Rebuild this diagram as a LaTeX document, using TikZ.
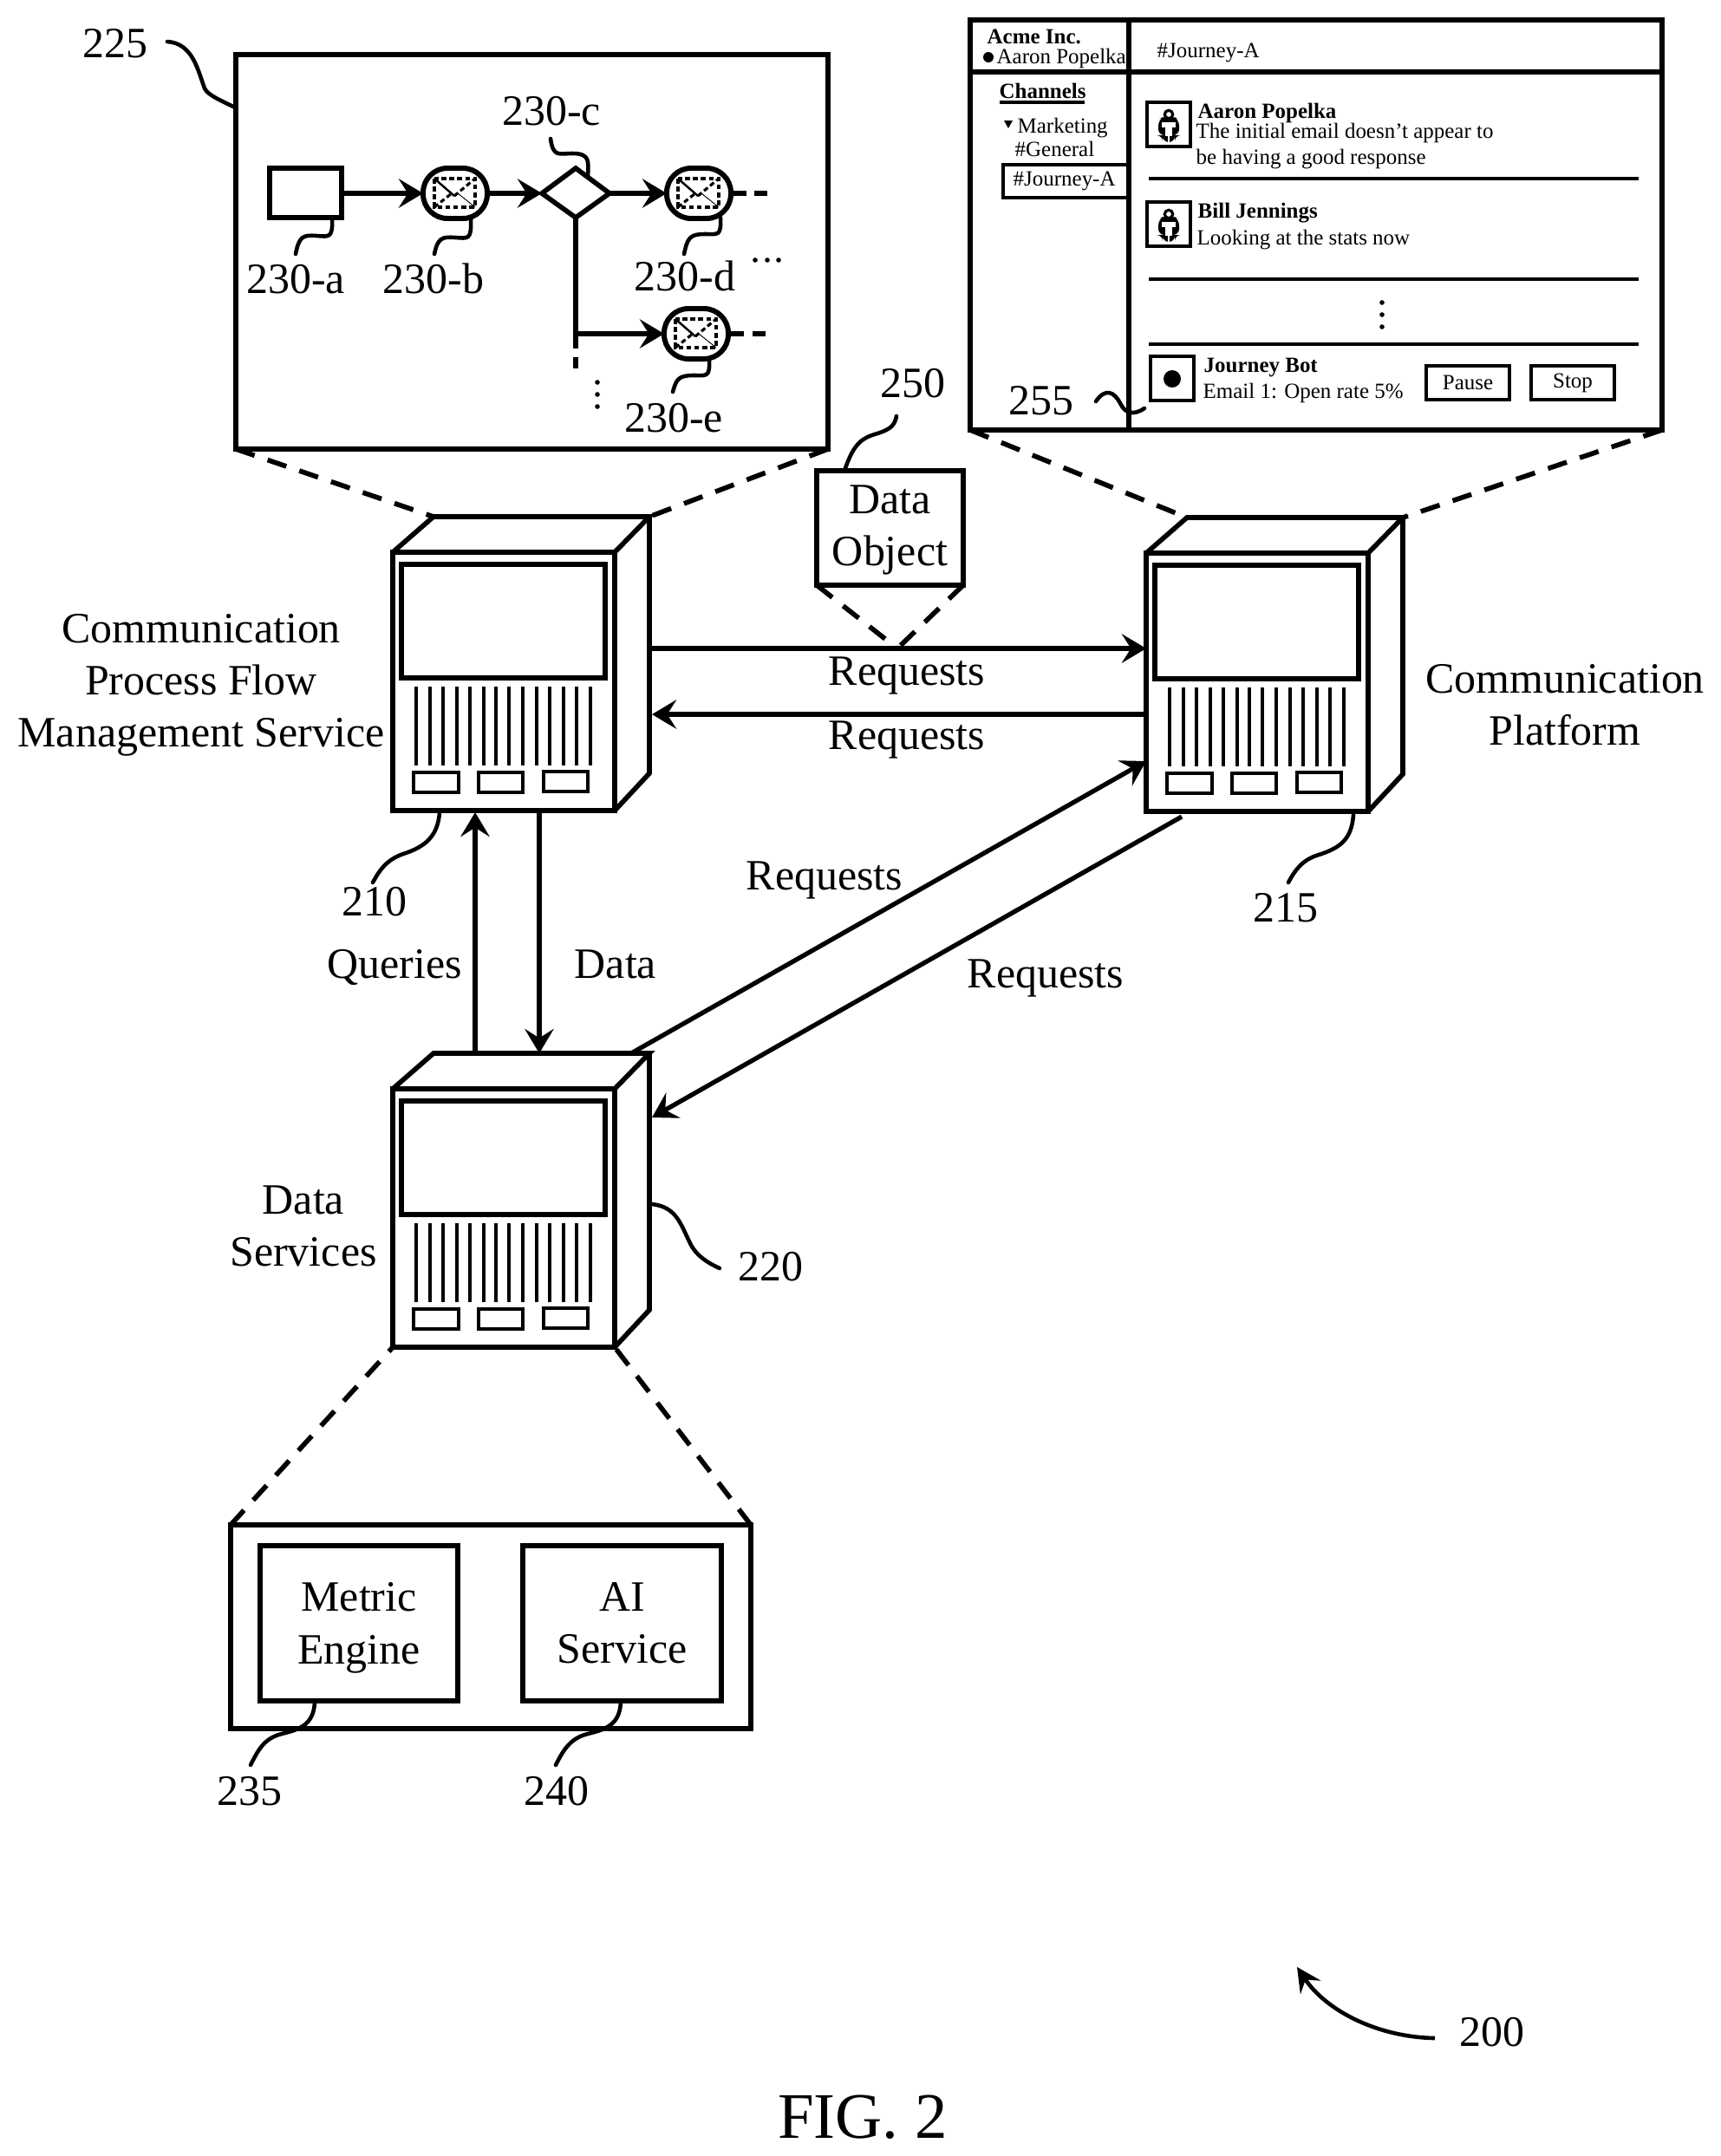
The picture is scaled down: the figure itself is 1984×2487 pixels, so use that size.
\documentclass[tikz,border=0pt]{standalone}
\usepackage{fontspec}
\setmainfont{Liberation Serif}
\usetikzlibrary{arrows.meta,calc}
\newcommand{\bigf}{\fontsize{14.2}{17.1}\selectfont}
\newcommand{\smallf}{\fontsize{7.1}{8.5}\selectfont}
\newcommand{\smallbf}{\fontsize{7.1}{8.5}\selectfont\bfseries}
\newcommand{\pxu}{0.01cm}
\tikzset{
  thick line/.style={line width=1.6pt,line join=miter},
  boxn/.style={draw,line width=1.6pt,inner sep=0pt,outer sep=0pt,anchor=north west},
  lab/.style={font=\bigf,inner sep=0pt,anchor=base},
  mlab/.style={font=\bigf,inner sep=0pt,align=center},
  sl/.style={font=\smallf,inner sep=0pt,anchor=base west},
  sb/.style={font=\smallbf,inner sep=0pt,anchor=base west},
  conn/.style={line width=1.5pt,-{Stealth[length=8pt,width=9.5pt,inset=3pt]}},
  zoomdash/.style={line width=1.6pt,dash pattern=on 6.5pt off 4.5pt},
  leader/.style={line width=1.3pt,line cap=round},
  flowline/.style={line width=1.5pt},
  flowarrow/.style={line width=1.5pt,-{Stealth[length=8pt,width=9.5pt,inset=3pt]}},
  sep/.style={line width=1.3pt},
}
% server: name, x of front left, y of front top
\newcommand{\serverbox}[3]{%
  \begin{scope}[shift={(#2,#3)}]
    \node[boxn,minimum width=256*\pxu,minimum height=298*\pxu] (#1) at (0,0) {};
    \coordinate (#1tl) at (47,-41);
    \coordinate (#1tr) at (296,-41);
    \draw[thick line] (0,0) -- (#1tl) -- (#1tr) -- (256,0);
    \draw[thick line] (#1tr) -- (296,255) -- (256,298);
    \node[boxn,minimum width=235*\pxu,minimum height=131*\pxu] (#1scr) at (10,14) {};
    \foreach \vx in {27,43,58,74,89,105,119,134,150,166,181,197,212,228}
      \draw[line width=1.05pt] (\vx,155) -- (\vx,246);
    \node[boxn,line width=1.05pt,minimum width=52*\pxu,minimum height=23*\pxu] (#1ba) at (24,254) {};
    \node[boxn,line width=1.05pt,minimum width=51*\pxu,minimum height=23*\pxu] (#1bb) at (99,254) {};
    \node[boxn,line width=1.05pt,minimum width=51*\pxu,minimum height=23*\pxu] (#1bc) at (174,253) {};
  \end{scope}}
% message envelope: name, centre x, centre y
\newcommand{\envelope}[3]{%
  \begin{scope}[shift={(#2,#3)}]
    \node[draw,line width=1.7pt,inner sep=0pt,outer sep=0pt,rounded corners=8pt,minimum width=74*\pxu,minimum height=58*\pxu] (#1) at (0,0) {};
    \draw[line width=.9pt,dash pattern=on 1.6pt off 1pt] (-24,-17) rectangle (23,16);
    \draw[line width=.7pt] (-24,-17) -- (-1,3);
    \draw[line width=.9pt,dash pattern=on 1.6pt off 1pt] (-1,3) -- (23,-17);
    \draw[line width=.9pt,dash pattern=on 1.6pt off 1pt] (-24,16) -- (-4,0);
    \draw[line width=.25pt] (3,0) -- (23,16);
  \end{scope}}
% person icon: name, box left, box top
\newcommand{\avatar}[3]{%
  \node[boxn,line width=1.3pt,minimum width=50*\pxu,minimum height=51*\pxu] (#1) at (#2,#3) {};
  \begin{scope}[shift={(#2+25,#3+26)}]
    \draw[line width=1pt] (0,-12) circle (4.5);
    \fill[rounded corners=2pt] (-5,-10) -- (5,-10) -- (12,-6) -- (12,12) -- (7,12) -- (7,20) -- (-7,20) -- (-7,12) -- (-12,12) -- (-12,-6) -- cycle;
    \fill[white] (0,-12) circle (2.8);
    \fill[white] (-8,-3) rectangle (8,3);
    \fill[white] (-4,0) rectangle (4,13);
    \fill[white] (-.7,13) rectangle (.7,20);
  \end{scope}}
\begin{document}
\begin{tikzpicture}[x=\pxu,y=-\pxu]
\useasboundingbox (0,0) rectangle (1984,2487);
\fill[white] (0,0) rectangle (1984,2487);

%--- box 225
\node[boxn,minimum width=683*\pxu,minimum height=455*\pxu] (b225) at (272,63) {};
\node[boxn,minimum width=83*\pxu,minimum height=57*\pxu] (fa) at (311,194) {};
\envelope{fb}{525}{223}
\coordinate (dT) at (664,194); \coordinate (dR) at (703,223); \coordinate (dB) at (664,251); \coordinate (dL) at (625,223);
\draw[thick line] (dT) -- (dR) -- (dB) -- (dL) -- cycle;
\envelope{fd}{806}{223}
\envelope{fe}{803}{385}
\draw[flowarrow] (fa.east |- fb.west) -- (fb.west);
\draw[flowarrow] (fb.east) -- (dL);
\draw[flowarrow] (dR) -- (fd.west);
\coordinate (fbr) at (dB |- fe.west);
\draw[flowline] (dB) -- (664,402);
\draw[flowline] (664,412) -- (664,425);
\draw[flowarrow] (fbr) -- (fe.west);
\coordinate (fdd) at (861,223);
\draw[flowline] (fd.east) -- (fdd);
\draw[flowline] (870,223) -- (885,223);
\coordinate (fee) at (858,385);
\draw[flowline] (fe.east) -- (fee);
\draw[flowline] (868,385) -- (883,385);
\foreach \dx in {871,885,898} \fill (\dx,300) circle (2.8);
\foreach \dy in {441,455,469} \fill (689,\dy) circle (2.8);

\node[lab] (t225) at (133,66) {225};
\node[lab] (ta) at (341,338) {230-a};
\node[lab] (tb) at (500,338) {230-b};
\node[lab] (tc) at (636,144) {230-c};
\node[lab] (td) at (790,335) {230-d};
\node[lab] (te) at (777,498) {230-e};
\coordinate (c225) at (193,48);
\coordinate (ca) at (341,293); \coordinate (cb) at (501,293); \coordinate (cc) at (635,160);
\coordinate (cd) at (789,293); \coordinate (ce) at (776,452);
\draw[leader] (c225) .. controls (222,50) and (228,80) .. (236,102) .. controls (240,110) and (255,116) .. (271,124);
\draw[leader] (383,251) .. controls (384,275) and (380,273) .. (365,272) .. controls (350,271) and (345,272) .. (ca);
\draw[leader] (543,253) .. controls (544,277) and (540,275) .. (525,274) .. controls (510,273) and (505,274) .. (cb);
\draw[leader] (831,251) .. controls (832,273) and (828,270) .. (813,270) .. controls (795,270) and (793,275) .. (cd);
\draw[leader] (818,414) .. controls (819,436) and (815,433) .. (800,433) .. controls (782,433) and (780,438) .. (ce);
\draw[leader] (cc) .. controls (638,182) and (645,177) .. (660,177) .. controls (680,177) and (679,185) .. (678,203);

%--- box 255 : communication UI
\node[boxn,minimum width=798*\pxu,minimum height=473*\pxu] (ui) at (1119,23) {};
\draw[thick line] (1302,23) -- (1302,496);
\draw[thick line] (1119,83) -- (1917,83);
\node[sb] (acme) at (1138,50) {Acme Inc.};
\fill (1140,66) circle (6);
\node[sl] (aaron) at (1149,73) {Aaron Popelka};
\node[sl] (jtop) at (1334,66) {\#Journey-A};
\node[sb] (chan) at (1152,113) {Channels};
\draw[line width=1pt] (1153,118) -- (1251,118);
\fill (1158,139) -- (1168,139) -- (1163,148) -- cycle;
\node[sl] (mark) at (1173,153) {Marketing};
\node[sl] (gen) at (1170,180) {\#General};
\draw[line width=1.1pt] (1302,190) -- (1157,190) -- (1157,228) -- (1302,228);
\node[sl] (jsel) at (1168,214) {\#Journey-A};
\avatar{av1}{1323}{118}
\node[sb] (n1) at (1381,136) {Aaron Popelka};
\node[sl] (m1a) at (1379,159) {The initial email doesn’t appear to};
\node[sl] (m1b) at (1379,189) {be having a good response};
\draw[sep] (1325,206) -- (1890,206);
\avatar{av2}{1323}{233}
\node[sb] (n2) at (1381,251) {Bill Jennings};
\node[sl] (m2) at (1380,282) {Looking at the stats now};
\draw[sep] (1325,322) -- (1890,322);
\foreach \dy in {349,363,377} \fill (1594,\dy) circle (2.8);
\draw[sep] (1325,397) -- (1890,397);
\node[boxn,line width=1.3pt,minimum width=50*\pxu,minimum height=51*\pxu] (av3) at (1327,411) {};
\fill (1352,437) circle (10);
\node[sb] (n3) at (1388,429) {Journey Bot};
\node[sl] (m3) at (1387,459) {Email 1: Open rate 5\%};
\node[boxn,line width=1.4pt,font=\smallf,minimum width=96*\pxu,minimum height=39*\pxu] (pause) at (1645,422) {Pause};
\node[boxn,line width=1.4pt,font=\smallf,minimum width=96*\pxu,minimum height=39*\pxu] (stop) at (1766,422) {Stop};
\node[lab] (t255) at (1201,478) {255};
\coordinate (c255) at (1264,463);
\draw[leader] (c255) .. controls (1275,447) and (1285,452) .. (1292,465) .. controls (1298,478) and (1308,479) .. (1320,471);

%--- servers
\serverbox{s210}{453}{637}
\serverbox{s215}{1322}{638}
\serverbox{s220}{453}{1256}

%--- zoom dashes
\draw[zoomdash] (b225.south west) -- (s210tl);
\draw[zoomdash] (b225.south east) -- (s210tr);
\draw[zoomdash] (ui.south west) -- (s215tl);
\draw[zoomdash] (ui.south east) -- (s215tr);
\node[boxn,mlab,minimum width=228*\pxu,minimum height=179*\pxu] at (300,1783) (metric) {Metric\\\smash{Engine}};
\node[boxn,mlab,minimum width=229*\pxu,minimum height=179*\pxu] at (603,1783) (ai) {AI\\Service};
\node[boxn,minimum width=600*\pxu,minimum height=235*\pxu] (b220) at (266,1759) {};
\draw[zoomdash] (b220.north west) -- (s220.south west);
\draw[zoomdash] (b220.north east) -- (s220.south east);

%--- data object
\node[boxn,mlab,minimum width=169*\pxu,minimum height=132*\pxu] (obj) at (942,543) {Data\\\smash{Object}\rule[-1.7pt]{0pt}{0pt}};
\coordinate (objp) at (1035,748);
\draw[zoomdash] (obj.south west) -- (objp);
\draw[zoomdash] (obj.south east) -- (objp);
\node[lab] (t250) at (1053,458) {250};
\coordinate (c250) at (1034,480);
\draw[leader] (974,543) .. controls (985,510) and (995,505) .. (1012,500) .. controls (1028,495) and (1032,490) .. (c250);

%--- connectors
\coordinate (s210r) at (749,748); \coordinate (s215l) at (1322,748);
\draw[conn] (s210r) -- (s215l);
\coordinate (s215m) at (1322,824); \coordinate (s210m) at (752,824);
\draw[conn] (s215m) -- (s210m);
\coordinate (s220q) at (548,1215); \coordinate (s210q) at (548,937);
\draw[conn] (s220q) -- (s210q);
\coordinate (s210d) at (622,937); \coordinate (s220d) at (622,1215);
\draw[conn] (s210d) -- (s220d);
\coordinate (s220a) at (728,1215); \coordinate (s215a) at (1322,878);
\draw[conn] (s220a) -- (s215a);
\coordinate (s215b) at (1363,942); \coordinate (s220b) at (752,1289);
\draw[conn] (s215b) -- (s220b);

\node[lab] (r1) at (1046,790) {Requests};
\node[lab] (r2) at (1046,864) {Requests};
\node[lab] (r3) at (951,1026) {Requests};
\node[lab] (r4) at (1206,1139) {Requests};
\node[lab] (q) at (455,1128) {Queries};
\node[lab] (d) at (710,1128) {Data};

\node[mlab] (lcp) at (232,790) {Communication\\Process Flow\\Management Service};
\node[mlab] (lplat) at (1805,813) {Communication\\Platform};
\node[mlab] (lds) at (350,1414) {Data\\Services};

\node[lab] (t210) at (432,1056) {210};
\node[lab] (t215) at (1483,1063) {215};
\node[lab] (t220) at (889,1477) {220};
\node[lab] (t235) at (288,2082) {235};
\node[lab] (t240) at (642,2082) {240};
\coordinate (c210) at (430,1018); \coordinate (c215) at (1486,1018); \coordinate (c220) at (830,1463);
\coordinate (c235) at (289,2036); \coordinate (c240) at (641,2036);
\draw[leader] (507,937) .. controls (505,965) and (490,977) .. (465,985) .. controls (445,992) and (437,1005) .. (c210);
\draw[leader] (1561,940) .. controls (1559,968) and (1546,978) .. (1521,986) .. controls (1501,992) and (1493,1005) .. (c215);
\draw[leader] (752,1389) .. controls (780,1392) and (785,1412) .. (795,1432) .. controls (802,1448) and (815,1456) .. (c220);
\draw[leader] (363,1963) .. controls (362,1990) and (345,1995) .. (325,2000) .. controls (305,2005) and (298,2018) .. (c235);
\draw[leader] (716,1963) .. controls (715,1990) and (698,1995) .. (678,2000) .. controls (658,2005) and (650,2018) .. (c240);

%--- figure reference
\node[lab] (t200) at (1721,2360) {200};
\coordinate (c200) at (1655,2351);
\draw[line width=1.3pt,-{Stealth[length=8pt,width=8pt,inset=3pt]}] (c200) .. controls (1590,2350) and (1530,2320) .. (1496,2269);
\node[font=\fontsize{21.3}{24}\selectfont,inner sep=0pt,anchor=base] (fig) at (995,2466) {FIG. 2};
\end{tikzpicture}
\end{document}
